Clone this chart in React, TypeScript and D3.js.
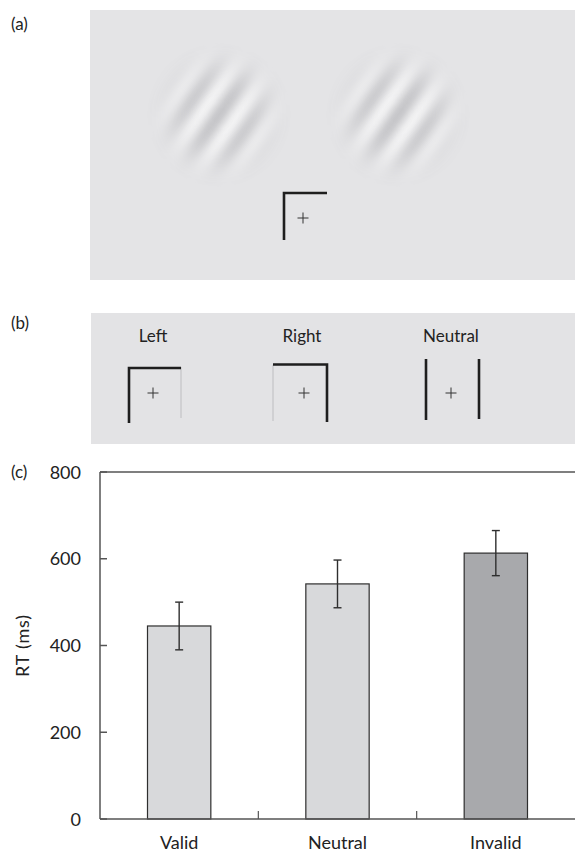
import React from "react";
import * as d3 from "d3";

const categories = ["Valid", "Neutral", "Invalid"];
const rtValues = [445, 542, 613];
const rtErrors = [55, 55, 52];
const yTicks = [0, 200, 400, 600, 800];
const barFills = ["#d8d9db", "#d8d9db", "#a8a9ac"];
const cueLabels = ["Left", "Right", "Neutral"];
const panelLabels = ["(a)", "(b)", "(c)"];

const FONT = "Lato, 'Open Sans', sans-serif";

function Gabor({ id, cx, cy }: { id: string; cx: number; cy: number }) {
  const P = 31;
  const ang = (55 * Math.PI) / 180;
  const gx = Math.sin(ang), gy = Math.cos(ang);
  const interp = d3.interpolateRgb("#f2f2f3", "#c6c6c9");
  const n = 16;
  const stops = d3.range(n + 1).map((k) => {
    const t = k / n;
    const v = (Math.cos(2 * Math.PI * t) + 1) / 2;
    return { off: t, col: interp(v) };
  });
  const R = 72, sigma = 34;
  const mstops = d3.range(17).map((k) => {
    const t = k / 16;
    const r = t * R;
    const z = (r * r) / (2 * sigma * sigma);
    return { off: t, op: Math.exp(-z * z * 0.7 - z * 0.3) };
  });
  return (
    <g>
      <defs>
        <linearGradient id={id + "-g"} gradientUnits="userSpaceOnUse" x1={cx} y1={cy} x2={cx + P * gx} y2={cy + P * gy} spreadMethod="repeat">
          {stops.map((s, i) => (
            <stop key={i} offset={s.off} stopColor={s.col} />
          ))}
        </linearGradient>
        <radialGradient id={id + "-r"}>
          {mstops.map((s, i) => (
            <stop key={i} offset={s.off} stopColor="#fff" stopOpacity={s.op} />
          ))}
        </radialGradient>
        <mask id={id + "-m"}>
          <circle cx={cx} cy={cy} r={R} fill={`url(#${id}-r)`} />
        </mask>
      </defs>
      <circle cx={cx} cy={cy} r={R} fill={`url(#${id}-g)`} mask={`url(#${id}-m)`} />
    </g>
  );
}

function Plus({ x, y }: { x: number; y: number }) {
  return (
    <g stroke="#333" strokeWidth={1}>
      <line x1={x - 5.5} x2={x + 5.5} y1={y} y2={y} />
      <line x1={x} x2={x} y1={y - 5.5} y2={y + 5.5} />
    </g>
  );
}

export default function App() {
  const W = 575, H = 853;
  const x = d3.scaleBand<string>().domain(categories).range([100, 575]).padding(0);
  const y = d3.scaleLinear().domain([0, 800]).range([819, 472]);
  const barW = x.bandwidth() * 0.4;
  const cueX = d3.scalePoint<string>().domain(cueLabels).range([153, 451]);
  const thick = { stroke: "#1e1e1e", strokeWidth: 2.6 };
  const thin = { stroke: "#bdbdc0", strokeWidth: 1 };

  return (
    <svg width={W} height={H} style={{ position: "absolute", left: 0, top: 0, background: "#fff" }} fontFamily={FONT}>
      {/* Panel a */}
      <text x={11} y={30} fontSize={17} fill="#222">{panelLabels[0]}</text>
      <rect x={90} y={10} width={485} height={270} fill="#e4e4e6" />
      <Gabor id="gl" cx={219} cy={115} />
      <Gabor id="gr" cx={398} cy={115} />
      <g fill="none" {...thick}>
        <polyline points="284,240 284,193 327,193" />
      </g>
      <Plus x={303} y={218} />

      {/* Panel b */}
      <text x={11} y={329} fontSize={17} fill="#222">{panelLabels[1]}</text>
      <rect x={91} y={313} width={484} height={131} fill="#e3e3e5" />
      {cueLabels.map((c) => (
        <text key={c} x={cueX(c)} y={342} fontSize={17} textAnchor="middle" fill="#222">{c}</text>
      ))}
      <g fill="none">
        <line x1={181} x2={181} y1={367} y2={418} {...thin} />
        <polyline points="129,423 129,368 181,368" {...thick} />
        <line x1={273} x2={273} y1={365} y2={421} {...thin} />
        <polyline points="273,364.5 327,364.5 327,422" {...thick} />
        <line x1={426} x2={426} y1={359} y2={420} {...thick} />
        <line x1={479} x2={479} y1={359} y2={419} {...thick} />
      </g>
      {cueLabels.map((c) => (
        <Plus key={c} x={cueX(c)! + (c === "Right" ? 2 : 0)} y={393} />
      ))}

      {/* Panel c */}
      <text x={11} y={478} fontSize={17} fill="#222">{panelLabels[2]}</text>
      {categories.map((c, i) => {
        const cx = x(c)! + x.bandwidth() / 2;
        return (
          <g key={c}>
            <rect x={cx - barW / 2} y={y(rtValues[i])} width={barW} height={y(0) - y(rtValues[i])} fill={barFills[i]} stroke="#2e2e2e" strokeWidth={1.2} />
            <g stroke="#2e2e2e" strokeWidth={1.4}>
              <line x1={cx} x2={cx} y1={y(rtValues[i] + rtErrors[i])} y2={y(rtValues[i] - rtErrors[i])} />
              <line x1={cx - 4} x2={cx + 4} y1={y(rtValues[i] + rtErrors[i])} y2={y(rtValues[i] + rtErrors[i])} />
              <line x1={cx - 4} x2={cx + 4} y1={y(rtValues[i] - rtErrors[i])} y2={y(rtValues[i] - rtErrors[i])} />
            </g>
            <text x={cx} y={849} fontSize={18} textAnchor="middle" fill="#222">{c}</text>
          </g>
        );
      })}
      <g stroke="#555" strokeWidth={1.5}>
        <line x1={100} x2={575} y1={y(800)} y2={y(800)} />
        <line x1={100} x2={575} y1={y(0)} y2={y(0)} />
        <line x1={100} x2={100} y1={y(800)} y2={y(0)} />
        {yTicks.map((t) => (
          <line key={t} x1={100} x2={107} y1={y(t)} y2={y(t)} />
        ))}
        {categories.slice(1).map((c) => (
          <line key={c} x1={x(c)} x2={x(c)} y1={y(0)} y2={y(0) - 8} strokeWidth={1.2} />
        ))}
      </g>
      {yTicks.map((t) => (
        <text key={t} x={81} y={y(t) + 6.5} fontSize={18} textAnchor="end" fill="#222">{t}</text>
      ))}
      <text transform={`translate(29, ${y(400)}) rotate(-90)`} fontSize={18} textAnchor="middle" fill="#222" letterSpacing={0.8}>RT (ms)</text>
    </svg>
  );
}
